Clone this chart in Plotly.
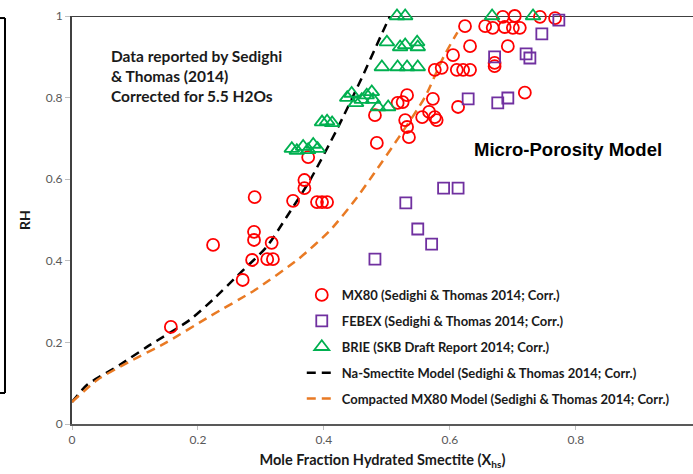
import plotly.graph_objects as go

# MX80 measurements (mole fraction hydrated smectite, RH)
mx80_x = [0.157, 0.224, 0.271, 0.286, 0.289, 0.289, 0.290, 0.310, 0.319, 0.317,
          0.351, 0.369, 0.369, 0.389, 0.397, 0.405, 0.375, 0.481, 0.484, 0.517,
          0.525, 0.532, 0.529, 0.532, 0.535, 0.556, 0.567, 0.573, 0.576, 0.579,
          0.576, 0.587, 0.605, 0.611, 0.621, 0.632, 0.613, 0.632, 0.624, 0.656,
          0.668, 0.684, 0.687, 0.703, 0.700, 0.711, 0.743, 0.767, 0.692, 0.671,
          0.671, 0.719]
mx80_y = [0.238, 0.439, 0.353, 0.402, 0.471, 0.451, 0.556, 0.404, 0.404, 0.444,
          0.547, 0.598, 0.578, 0.544, 0.544, 0.544, 0.654, 0.757, 0.689, 0.787,
          0.789, 0.806, 0.745, 0.728, 0.703, 0.752, 0.765, 0.797, 0.752, 0.745,
          0.868, 0.873, 0.904, 0.868, 0.868, 0.868, 0.777, 0.926, 0.975, 0.975,
          0.971, 0.998, 0.973, 1.000, 0.971, 0.971, 0.998, 0.995, 0.926, 0.885,
          0.877, 0.812]

# FEBEX measurements
febex_x = [0.481, 0.530, 0.549, 0.571, 0.590, 0.613, 0.629, 0.676, 0.692, 0.671,
           0.721, 0.727, 0.746, 0.773]
febex_y = [0.404, 0.542, 0.478, 0.441, 0.578, 0.578, 0.797, 0.787, 0.799, 0.900,
           0.907, 0.897, 0.956, 0.990]

# BRIE measurements
brie_x = [0.349, 0.357, 0.367, 0.375, 0.383, 0.390, 0.397, 0.405, 0.413,
          0.437, 0.444, 0.451, 0.460, 0.468, 0.476, 0.478, 0.486, 0.502,
          0.492, 0.517, 0.532, 0.549, 0.500, 0.521, 0.529, 0.548, 0.549,
          0.516, 0.529, 0.667, 0.732]
brie_y = [0.675, 0.670, 0.680, 0.672, 0.685, 0.675, 0.740, 0.742, 0.738,
          0.800, 0.810, 0.787, 0.795, 0.806, 0.814, 0.795, 0.777, 0.777,
          0.875, 0.875, 0.875, 0.875, 0.936, 0.924, 0.929, 0.936, 0.924,
          1.000, 1.000, 1.000, 1.000]

# Model curves
na_x = [0.0, 0.024, 0.076, 0.119, 0.187, 0.224, 0.267, 0.309, 0.341, 0.378,
        0.420, 0.460, 0.490, 0.505]
na_y = [0.054, 0.096, 0.145, 0.189, 0.255, 0.305, 0.370, 0.434, 0.508, 0.598,
        0.720, 0.848, 0.950, 1.000]

cmx_x = [0.0, 0.04, 0.09, 0.15, 0.22, 0.29, 0.36, 0.41, 0.45, 0.48, 0.52, 0.56,
         0.59, 0.612]
cmx_y = [0.054, 0.108, 0.152, 0.200, 0.265, 0.328, 0.405, 0.475, 0.550, 0.615,
         0.705, 0.800, 0.900, 0.960]

x_ticks = [0, 0.2, 0.4, 0.6, 0.8]
x_tick_labels = ["0", "0.2", "0.4", "0.6", "0.8"]
y_ticks = [0, 0.2, 0.4, 0.6, 0.8, 1]
y_tick_labels = ["0", "0.2", "0.4", "0.6", "0.8", "1"]

FONT = "Lato, 'Open Sans', sans-serif"

fig = go.Figure()

fig.add_trace(go.Scatter(
    x=na_x, y=na_y, mode="lines", name="Na-Smectite Model (Sedighi & Thomas 2014; Corr.)",
    line=dict(color="black", width=2.5, dash="9px,6px", shape="spline", smoothing=0.6),
    legendrank=4, legendgroup="d"))
fig.add_trace(go.Scatter(
    x=cmx_x, y=cmx_y, mode="lines", name="Compacted MX80 Model (Sedighi & Thomas 2014; Corr.)",
    line=dict(color="#E97A24", width=2.5, dash="9px,6px", shape="spline", smoothing=0.6),
    legendrank=5, legendgroup="e"))
fig.add_trace(go.Scatter(
    x=mx80_x, y=mx80_y, mode="markers", name="MX80 (Sedighi & Thomas 2014; Corr.)",
    marker=dict(symbol="circle-open", size=12, color="#FF0000", line=dict(width=1.8)),
    cliponaxis=False, legendrank=1, legendgroup="a"))
fig.add_trace(go.Scatter(
    x=febex_x, y=febex_y, mode="markers", name="FEBEX (Sedighi & Thomas 2014; Corr.)",
    marker=dict(symbol="square-open", size=11, color="#7030A0", line=dict(width=1.8)),
    cliponaxis=False, legendrank=2, legendgroup="b"))
fig.add_trace(go.Scatter(
    x=brie_x, y=brie_y, mode="markers", name="BRIE (SKB Draft Report 2014; Corr.)",
    marker=dict(symbol="triangle-up-open", size=13, color="#00B050", line=dict(width=1.8)),
    cliponaxis=False, legendrank=3, legendgroup="c"))

shapes = [
    # top border of the plot area
    dict(type="line", xref="paper", yref="y", x0=0, x1=1, y0=1, y1=1,
         line=dict(color="black", width=1.5), layer="below"),
    # frame edge on the far left
    dict(type="line", xref="paper", yref="paper", x0=-0.1079, x1=-0.1079, y0=0.076, y1=0.995,
         line=dict(color="black", width=2)),
    dict(type="line", xref="paper", yref="paper", x0=-0.12, x1=-0.1079, y0=0.995, y1=0.995,
         line=dict(color="black", width=2)),
    dict(type="line", xref="paper", yref="paper", x0=-0.12, x1=-0.1079, y0=0.076, y1=0.076,
         line=dict(color="black", width=2)),
]

annotations = [
    dict(text="Data reported by Sedighi<br>& Thomas (2014)<br>Corrected for 5.5 H2Os",
         xref="paper", yref="paper", x=0.0596, y=0.93, xanchor="left", yanchor="top",
         align="left", showarrow=False,
         font=dict(family=FONT, size=15.5, color="#1a1a1a", weight="bold")),
    dict(text="Micro-Porosity Model", xref="paper", yref="paper", x=0.799, y=0.672,
         xanchor="center", yanchor="middle", showarrow=False,
         font=dict(family="'Liberation Sans', Arial, sans-serif", size=18.5, color="black",
                   weight="bold")),
]

fig.update_layout(
    width=693, height=474,
    margin=dict(l=72, r=0, t=16, b=50),
    paper_bgcolor="white", plot_bgcolor="white",
    showlegend=True,
    legend=dict(x=0.37, y=0.353, xanchor="left", yanchor="top",
                bgcolor="rgba(0,0,0,0)", traceorder="grouped", tracegroupgap=6,
                itemwidth=30,
                font=dict(family=FONT, size=13, color="#1a1a1a", weight="bold")),
    shapes=shapes, annotations=annotations,
    font=dict(family=FONT),
)

fig.update_xaxes(
    range=[0, 0.986], tickvals=x_ticks, ticktext=x_tick_labels,
    showgrid=False, zeroline=False, showline=True, linecolor="#595959", linewidth=2,
    ticks="outside", ticklen=4, tickcolor="#bfbfbf",
    tickfont=dict(family=FONT, size=12, color="#595959"),
    title=dict(text="Mole Fraction Hydrated Smectite (X<sub>hs</sub>)",
               font=dict(family=FONT, size=14.5, color="#1a1a1a", weight="bold"), standoff=8),
)
fig.update_yaxes(
    range=[0, 1], tickvals=y_ticks, ticktext=y_tick_labels,
    showgrid=False, zeroline=False, showline=True, linecolor="#404040", linewidth=2,
    ticks="outside", ticklen=5, tickcolor="#bfbfbf",
    tickfont=dict(family=FONT, size=12, color="#595959"),
    title=dict(text="RH", font=dict(family=FONT, size=14, color="#1a1a1a", weight="bold"),
               standoff=12),
)

fig.write_html("out.html")
